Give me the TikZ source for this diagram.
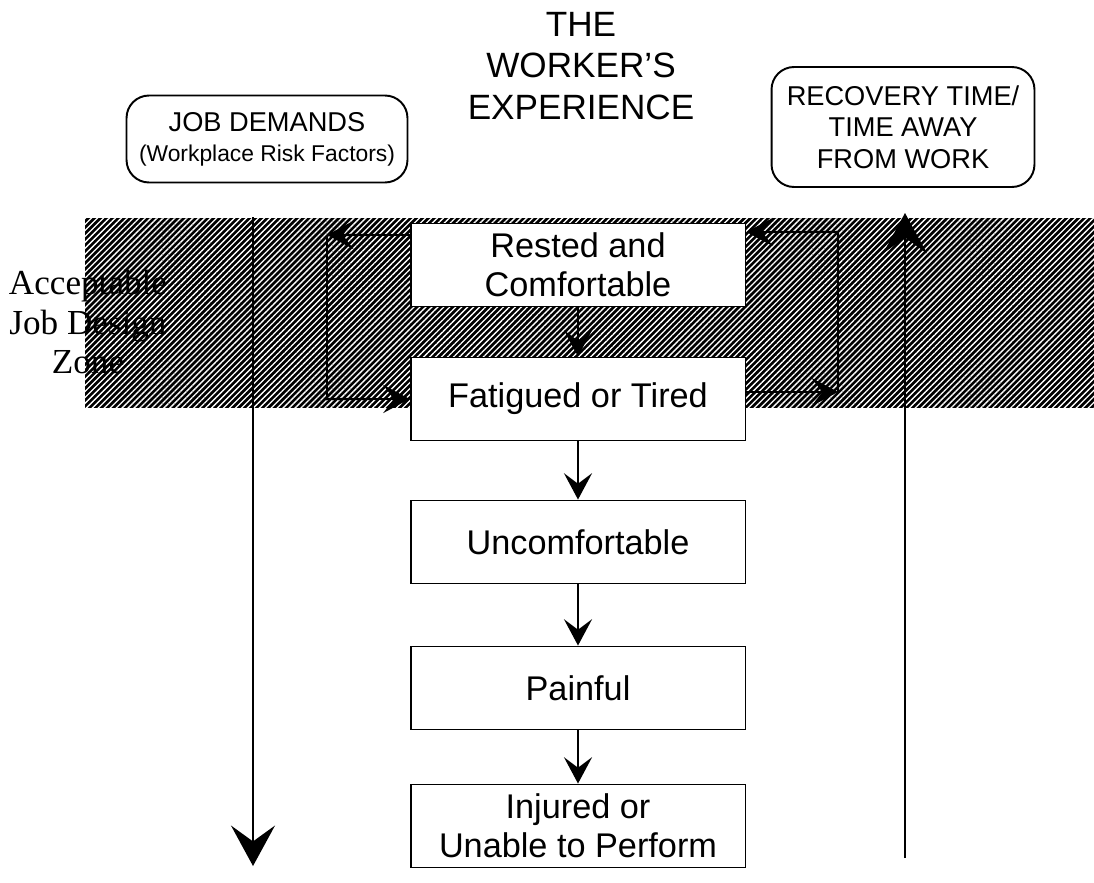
\documentclass[tikz,border=0pt]{standalone}
\usepackage{fontspec}
\setmainfont{Liberation Sans}
\newfontfamily\zonefont{Liberation Serif}
\usetikzlibrary{arrows.meta,patterns.meta}
\begin{document}
\begin{tikzpicture}[x=0.02cm, y=-0.02cm, line width=1.1pt, main node/.style={draw, fill=white, minimum width=6.7cm, minimum height=1.66cm, inner sep=0pt, align=center, font=\fontsize{19.5}{22}\selectfont}, side node/.style={draw, rounded corners=0.45cm, inner sep=0pt, align=center, font=\fontsize{15.5}{18}\selectfont}, tip/.style={-{Stealth[length=15pt, width=16pt, inset=6pt]}}, big tip/.style={line width=1.4pt, -{Stealth[length=23pt, width=25pt, inset=9pt]}}]
\useasboundingbox (0,0) rectangle (1094,882);
\fill[black] (85,218) rectangle (1094,408);
\fill[pattern={Lines[angle=45, distance=2.4pt, line width=0.75pt]}, pattern color=white] (85,218) rectangle (1094,408);
\node[font=\fontsize{20}{23.5}\selectfont, align=center] (0) at (581,66) {THE\\WORKER'S\\EXPERIENCE};
\node[side node, minimum width=5.62cm, minimum height=1.74cm] (8) at (267,139) {JOB DEMANDS\\[-1pt]{\fontsize{13}{15}\selectfont (Workplace Risk Factors)}};
\node[side node, minimum width=5.26cm, minimum height=2.4cm] (9) at (903,127) {RECOVERY TIME/\\TIME AWAY\\FROM WORK};
\node[font=\zonefont\fontsize{20}{22.7}\selectfont, align=center] (z) at (88,322) {Acceptable\\Job Design\\Zone};
\node[main node] (1) at (578,265) {Rested and\\Comfortable};
\node[main node] (2) at (578,399) {Fatigued or Tired};
\node[main node] (3) at (578,542) {Uncomfortable};
\node[main node] (4) at (578,688) {Painful};
\node[main node] (5) at (578,826) {Injured or\\Unable to Perform};
\coordinate (l1) at (327,235);
\coordinate (r1) at (838,392);
\coordinate (r2) at (838,232);
\coordinate (d1) at (253,217);
\coordinate (d2) at (253,866);
\coordinate (u1) at (905,858);
\coordinate (u2) at (905,213);
\path[tip]
(1) edge (2)
(2) edge (3)
(3) edge (4)
(4) edge (5);
\draw[tip] (1.west |- l1) -- (l1);
\draw[tip] (l1) |- (2.west);
\draw[tip] (2.east |- r1) -- (r1);
\draw[tip] (r1) -- (r2) -- (1.east |- r2);
\draw[big tip] (d1) -- (d2);
\draw[big tip] (u1) -- (u2);
\end{tikzpicture}
\end{document}
